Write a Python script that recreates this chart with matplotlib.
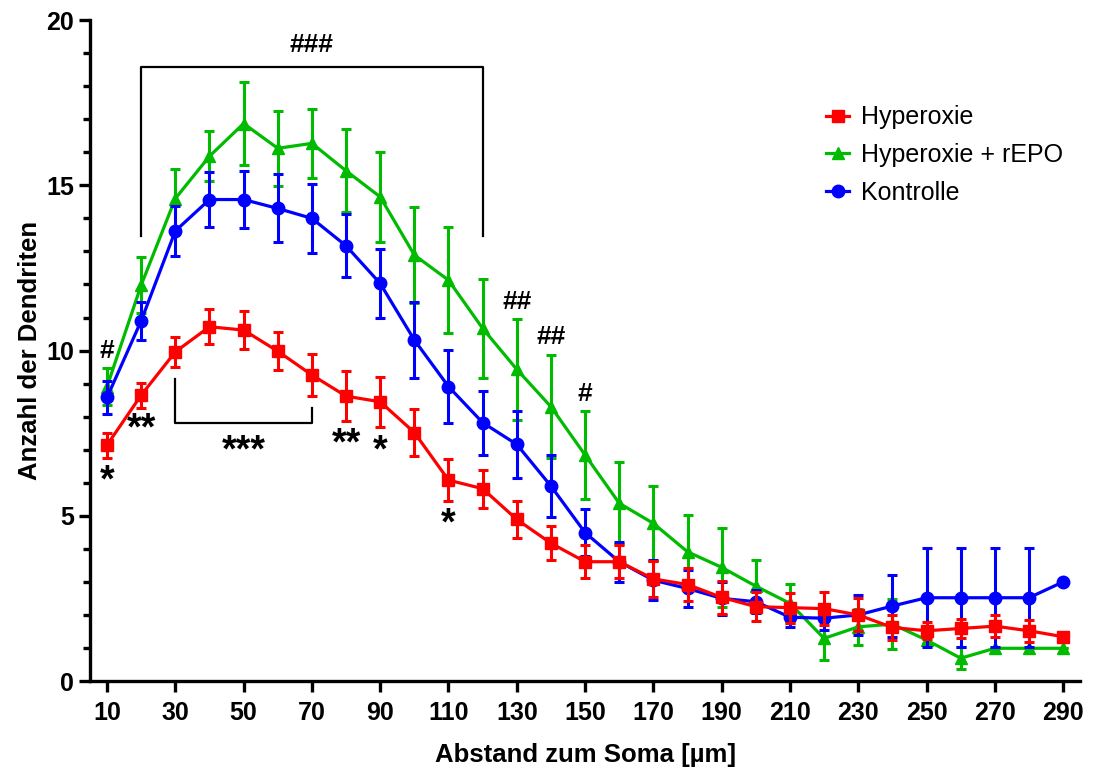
import numpy as np
import matplotlib.pyplot as plt
from matplotlib.ticker import MultipleLocator
from matplotlib.lines import Line2D

plt.rcParams['font.family'] = ['Liberation Sans', 'DejaVu Sans']

abstand = np.arange(10, 300, 10)

hyperoxie = [7.14, 8.65, 9.96, 10.72, 10.62, 9.98, 9.26, 8.62, 8.45, 7.52,
             6.08, 5.82, 4.89, 4.17, 3.61, 3.61, 3.09, 2.92, 2.53, 2.25,
             2.22, 2.19, 2.0, 1.62, 1.52, 1.59, 1.66, 1.52, 1.34]
hyperoxie_err = [0.38, 0.38, 0.46, 0.53, 0.58, 0.58, 0.65, 0.76, 0.76, 0.7,
                 0.63, 0.58, 0.56, 0.52, 0.5, 0.5, 0.55, 0.5, 0.5, 0.43,
                 0.45, 0.5, 0.5, 0.38, 0.26, 0.3, 0.34, 0.33, 0.15]

repo = [8.91, 11.98, 14.6, 15.88, 16.87, 16.12, 16.27, 15.44, 14.65, 12.89,
        12.13, 10.67, 9.43, 8.3, 6.84, 5.38, 4.77, 3.91, 3.44, 2.87,
        2.35, 1.29, 1.64, 1.72, 1.24, 0.69, 0.99, 0.99, 0.99]
repo_err = [0.55, 0.85, 0.9, 0.75, 1.25, 1.13, 1.05, 1.25, 1.35, 1.46,
            1.6, 1.5, 1.54, 1.56, 1.34, 1.24, 1.13, 1.1, 1.2, 0.8,
            0.6, 0.65, 0.55, 0.75, 0.1, 0.33, 0.0, 0.0, 0.0]

kontrolle = [8.58, 10.9, 13.62, 14.57, 14.57, 14.3, 14.0, 13.17, 12.03, 10.32,
             8.91, 7.82, 7.16, 5.9, 4.49, 3.61, 3.05, 2.8, 2.5, 2.4,
             1.93, 1.9, 2.0, 2.27, 2.52, 2.52, 2.52, 2.52, 3.0]
kontrolle_err = [0.5, 0.58, 0.75, 0.82, 0.87, 1.03, 1.04, 0.95, 1.04, 1.16,
                 1.1, 0.97, 1.02, 0.94, 0.72, 0.6, 0.6, 0.55, 0.5, 0.35,
                 0.3, 0.35, 0.6, 0.95, 1.5, 1.5, 1.5, 1.5, 0.0]

# significance marks: (x, y, text)
stars = [(10, 6.05, '*'), (20, 7.6, '**'), (50, 6.95, '***'),
         (80, 7.15, '**'), (90, 6.95, '*'), (110, 4.75, '*')]
hashes = [(10, 10.0, '#'), (70, 19.25, '###'), (130, 11.47, '##'),
          (140, 10.4, '##'), (150, 8.7, '#')]

fig = plt.figure(figsize=(10.93, 7.73), dpi=100)
ax = fig.add_axes([0.0823, 0.119, 0.906, 0.855])

common = dict(linewidth=2.3, elinewidth=2.2, capsize=3.5, capthick=2.2)
ax.errorbar(abstand, repo, yerr=repo_err, color='#00bb00', marker='^',
            markersize=9, zorder=2, **common)
ax.errorbar(abstand, kontrolle, yerr=kontrolle_err, color='#0000ff', marker='o',
            markersize=9, zorder=3, **common)
ax.errorbar(abstand, hyperoxie, yerr=hyperoxie_err, color='#ff0000', marker='s',
            markersize=8.5, zorder=4, **common)

# brackets
ax.plot([20, 20, 120, 120], [13.46, 18.58, 18.58, 13.46], color='black', lw=1.6)
ax.plot([30, 30, 70, 70], [9.13, 7.8, 7.8, 8.25], color='black', lw=1.6)

for x, y, t in stars:
    ax.text(x, y, t, ha='center', va='center', fontsize=27, fontweight='bold')
for x, y, t in hashes:
    ax.text(x, y, t, ha='center', va='center', fontsize=19, fontweight='bold')

ax.set_xlim(5, 295)
ax.set_ylim(0, 20)
ax.set_xticks(np.arange(10, 300, 20))
ax.yaxis.set_major_locator(MultipleLocator(5))
ax.yaxis.set_minor_locator(MultipleLocator(1))

for s in ['top', 'right']:
    ax.spines[s].set_visible(False)
for s in ['left', 'bottom']:
    ax.spines[s].set_linewidth(2.4)
ax.tick_params(axis='both', which='major', width=2.4, length=8, labelsize=18)
ax.tick_params(axis='x', which='major', pad=6.5)
ax.tick_params(axis='y', which='minor', width=2.4, length=5)
for lab in ax.get_xticklabels() + ax.get_yticklabels():
    lab.set_fontweight('bold')

ax.set_xlabel('Abstand zum Soma [µm]', fontsize=18.5, fontweight='bold', labelpad=13)
ax.set_ylabel('Anzahl der Dendriten', fontsize=18.5, fontweight='bold', labelpad=3)

handles = [
    Line2D([], [], color='#ff0000', marker='s', markersize=8, lw=2.3),
    Line2D([], [], color='#00bb00', marker='^', markersize=9, lw=2.3),
    Line2D([], [], color='#0000ff', marker='o', markersize=9, lw=2.3),
]
labels = ['Hyperoxie', 'Hyperoxie + rEPO', 'Kontrolle']
ax.legend(handles, labels, loc='upper left', bbox_to_anchor=(0.721, 0.905),
          frameon=False, fontsize=18, handlelength=0.9, handletextpad=0.5,
          labelspacing=0.55)

fig.savefig('out.png', dpi=100)
